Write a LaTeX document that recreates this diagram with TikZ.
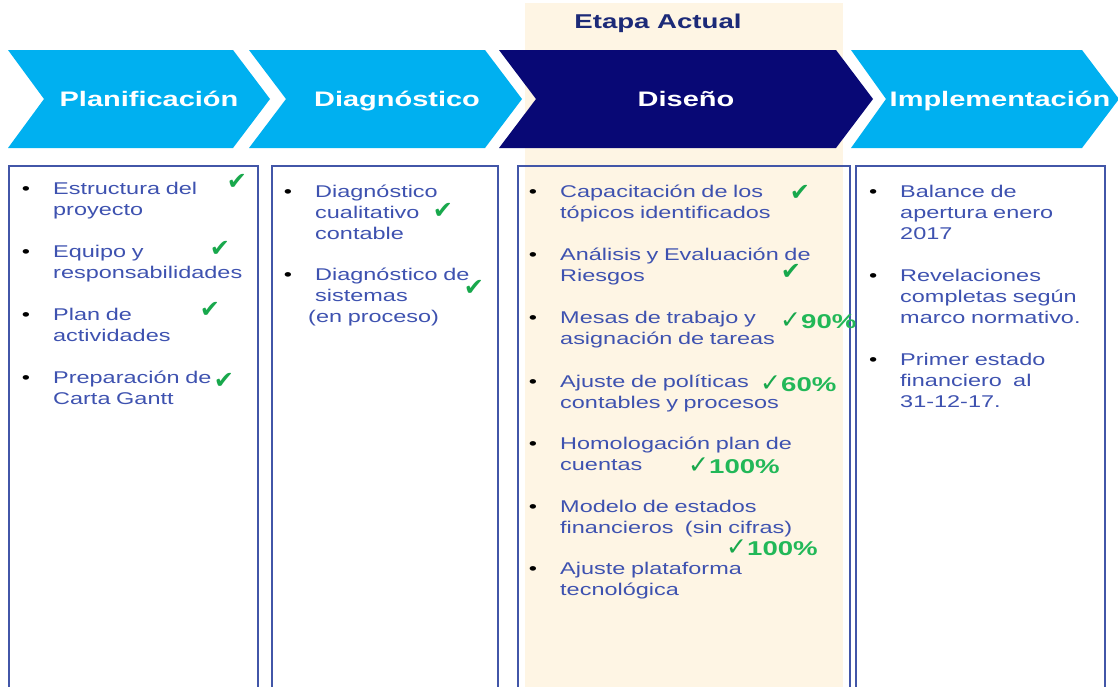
\documentclass[tikz,border=0pt]{standalone}
\usepackage{fontspec}
\setmainfont{Liberation Sans}[FakeStretch=1.38]
\newfontfamily\chkfont{DejaVu Sans}
\definecolor{cyanc}{RGB}{0,176,240}
\definecolor{navyc}{RGB}{8,8,117}
\definecolor{beigec}{RGB}{254,245,228}
\definecolor{txtblue}{RGB}{62,82,176}
\definecolor{boxline}{RGB}{66,86,168}
\definecolor{etapac}{RGB}{28,42,120}
\definecolor{chkgreen}{RGB}{24,168,76}
\definecolor{pctgreen}{RGB}{34,184,88}
\newcommand\bul{\makebox[0pt][r]{\textcolor{black}{•}\hspace{23pt}}}
\newcommand\pchk{{\chkfont\mdseries\fontsize{25}{25}\selectfont\textcolor{chkgreen}{✓}}}
\begin{document}
\begin{tikzpicture}[x=1pt,y=-1pt,
  chev/.style={fill=cyanc,draw=none},
  chevdark/.style={fill=navyc,draw=none},
  headtxt/.style={anchor=base,text=white,font=\fontsize{21}{25}\selectfont\bfseries,inner sep=0},
  boxst/.style={draw=boxline,line width=1.6pt},
  item/.style={anchor=base west,inner sep=0,text=txtblue,font=\fontsize{17}{21}\selectfont,align=left,text width=320pt},
  chk/.style={text=chkgreen,font=\chkfont\fontsize{24}{24}\selectfont,inner sep=0},
  pct/.style={anchor=base west,text=pctgreen,font=\fontsize{20}{20}\selectfont\bfseries,inner sep=0}]
\useasboundingbox (0,0) rectangle (1118,686);
\clip (0,0) rectangle (1118,686);
\fill[white] (0,0) rectangle (1118,686);
% current stage background
\fill[beigec] (525,3) rectangle (843,690);
\node[anchor=base,text=etapac,font=\fontsize{20}{24}\selectfont\bfseries,inner sep=0] (etapa) at (658,28) {Etapa Actual};
% chevrons
\fill[chev] (8,50) -- (233,50) -- (270,99) -- (233,148) -- (8,148) -- (44,99) -- cycle;
\fill[chev] (249,50) -- (485,50) -- (522,99) -- (485,148) -- (249,148) -- (286,99) -- cycle;
\fill[chevdark] (499,50) -- (836,50) -- (873,99) -- (836,148) -- (499,148) -- (536,99) -- cycle;
\fill[chev] (851,50) -- (1082,50) -- (1119,99) -- (1082,148) -- (851,148) -- (886,99) -- cycle;
\node[headtxt] (h1) at (149,106) {Planificación};
\node[headtxt] (h2) at (397,106) {Diagnóstico};
\node[headtxt] (h3) at (686,106) {Diseño};
\node[headtxt] (h4) at (1000,106) {Implementación};
% boxes
\draw[boxst] (9,166) rectangle (258,692);
\draw[boxst] (272,166) rectangle (498,692);
\draw[boxst] (518,166) rectangle (850,692);
\draw[boxst] (856,166) rectangle (1105,692);
% box 1
\node[item] (b1a) at (53,194) {\bul Estructura del\\proyecto};
\node[item] (b1b) at (53,257) {\bul Equipo y\\responsabilidades};
\node[item] (b1c) at (53,320) {\bul Plan de\\actividades};
\node[item] (b1d) at (53,383) {\bul Preparación de\\Carta Gantt};
\node[chk] (c1a) at (237,182) {✔};
\node[chk] (c1b) at (220,249) {✔};
\node[chk] (c1c) at (210,310) {✔};
\node[chk] (c1d) at (224,381) {✔};
% box 2
\node[item] (b2a) at (315,197) {\bul Diagnóstico\\cualitativo\\contable};
\node[item] (b2b) at (315,280) {\bul Diagnóstico de\\sistemas\\\hspace*{-7pt}(en proceso)};
\node[chk] (c2a) at (443,211) {✔};
\node[chk] (c2b) at (474,288) {✔};
% box 3
\node[item] (b3a) at (560,197) {\bul Capacitación de los\\tópicos identificados};
\node[item] (b3b) at (560,260) {\bul Análisis y Evaluación de\\Riesgos};
\node[item] (b3c) at (560,323) {\bul Mesas de trabajo y\\asignación de tareas};
\node[item] (b3d) at (560,387) {\bul Ajuste de políticas\\contables y procesos};
\node[item] (b3e) at (560,449) {\bul Homologación plan de\\cuentas};
\node[item] (b3f) at (560,512) {\bul Modelo de estados\\financieros\ \ (sin cifras)};
\node[item] (b3g) at (560,574) {\bul Ajuste plataforma\\tecnológica};
\node[chk] (c3a) at (800,193) {✔};
\node[chk] (c3b) at (791,272) {✔};
\node[pct] (p3c) at (780,328) {\pchk90\%};
\node[pct] (p3d) at (760,391) {\pchk60\%};
\node[pct] (p3e) at (688,473) {\pchk100\%};
\node[pct] (p3f) at (726,555) {\pchk100\%};
% box 4
\node[item] (b4a) at (900,197) {\bul Balance de\\apertura enero\\2017};
\node[item] (b4b) at (900,281) {\bul Revelaciones\\completas según\\marco normativo.};
\node[item] (b4c) at (900,365) {\bul Primer estado\\financiero\ \ al\\31-12-17.};
\end{tikzpicture}
\end{document}
